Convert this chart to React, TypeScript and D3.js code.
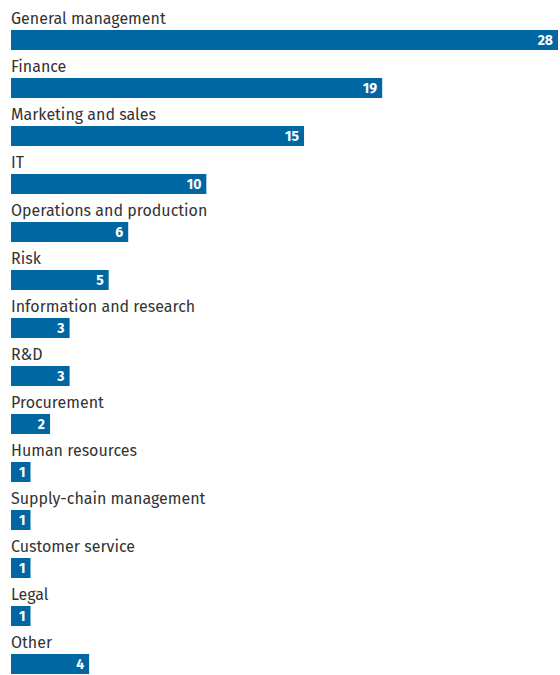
import React from "react";
import * as d3 from "d3";

const categories = [
  "General management",
  "Finance",
  "Marketing and sales",
  "IT",
  "Operations and production",
  "Risk",
  "Information and research",
  "R&D",
  "Procurement",
  "Human resources",
  "Supply-chain management",
  "Customer service",
  "Legal",
  "Other",
];
const values = [28, 19, 15, 10, 6, 5, 3, 3, 2, 1, 1, 1, 1, 4];

const W = 560;
const H = 675;

export default function App() {
  const x = d3.scaleLinear().domain([0, 28]).range([11, 558]);
  const y = d3
    .scaleBand<number>()
    .domain(d3.range(categories.length))
    .range([0, 48 * categories.length])
    .padding(0);
  return (
    <svg
      width={W}
      height={H}
      style={{ position: "absolute", left: 0, top: 0 }}
      fontFamily="'Fira Sans', 'Noto Sans', sans-serif"
    >
      <rect width={W} height={H} fill="#fff" />
      {categories.map((c, i) => {
        const top = y(i)!;
        return (
          <g key={c}>
            <text x={11} y={top + 24} fontSize={16} fill="#333">
              {c}
            </text>
            <rect
              x={x(0)}
              y={top + 30}
              width={x(values[i]) - x(0)}
              height={20}
              fill="#0067a3"
            />
            <text
              x={x(values[i]) - 5}
              y={top + 45}
              fontSize={14}
              fontWeight="bold"
              fill="#fff"
              textAnchor="end"
            >
              {values[i]}
            </text>
          </g>
        );
      })}
    </svg>
  );
}
